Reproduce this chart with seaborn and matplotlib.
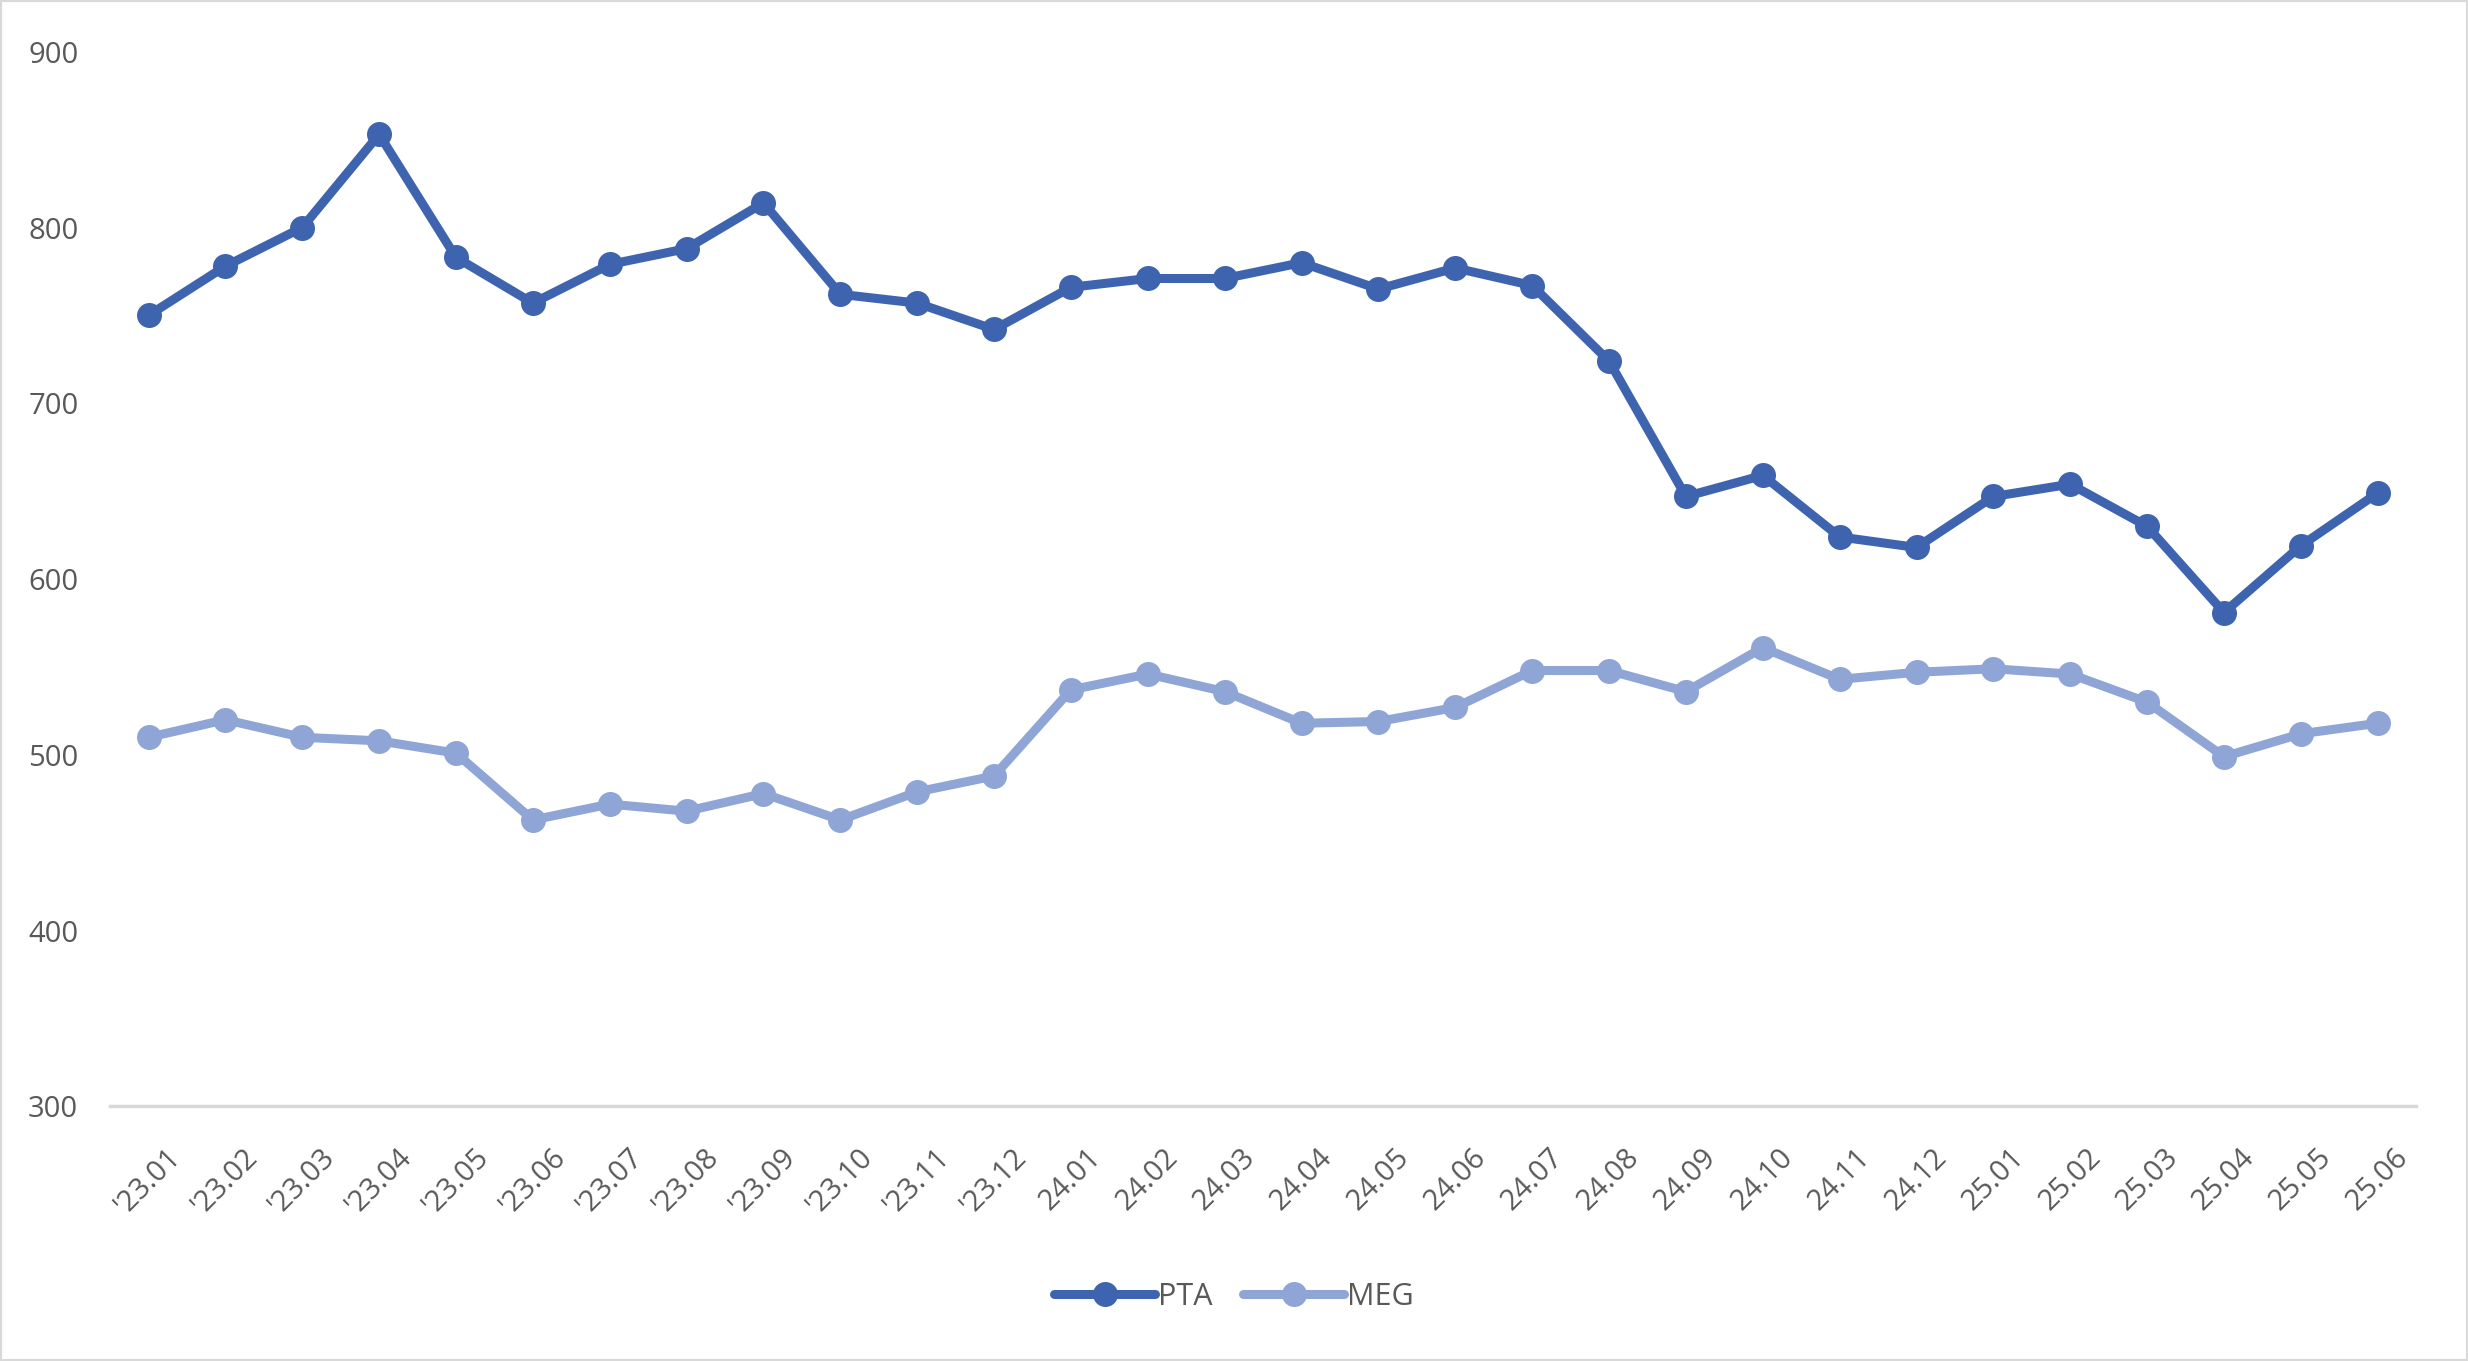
import matplotlib
matplotlib.use('Agg')
import matplotlib.pyplot as plt
import seaborn as sns
import pandas as pd
from matplotlib.patches import Rectangle

# 월별 라벨
months = ["'23.01", "'23.02", "'23.03", "'23.04", "'23.05", "'23.06",
          "'23.07", "'23.08", "'23.09", "'23.10", "'23.11", "'23.12",
          "24.01", "24.02", "24.03", "24.04", "24.05", "24.06",
          "24.07", "24.08", "24.09", "24.10", "24.11", "24.12",
          "25.01", "25.02", "25.03", "25.04", "25.05", "25.06"]

pta = [750, 778, 800, 853, 783, 757, 779, 788, 814, 762, 757, 742,
       766, 771, 771, 780, 765, 777, 767, 724, 647, 659, 624, 618,
       647, 654, 630, 581, 619, 649]

meg = [510, 520, 510, 508, 501, 463, 472, 468, 478, 463, 479, 488,
       537, 546, 536, 518, 519, 527, 548, 548, 536, 561, 543, 547,
       549, 546, 530, 499, 512, 518]

series_names = ['PTA', 'MEG']
colors = ['#3E64AF', '#8FA5D6']
y_ticks = [300, 400, 500, 600, 700, 800, 900]

df = pd.DataFrame({
    'month': months * 2,
    'value': pta + meg,
    'series': ['PTA'] * len(months) + ['MEG'] * len(months),
})

sns.set_style('white')
plt.rcParams['font.family'] = ['Open Sans', 'DejaVu Sans']

fig = plt.figure(figsize=(24.68, 13.61), dpi=100)
ax = fig.add_axes([0.0446, 0.187, 0.9344, 0.775])

sns.lineplot(data=df, x='month', y='value', hue='series', hue_order=series_names,
             palette=colors, sort=False, marker='o', markersize=18,
             markeredgewidth=0, linewidth=6.5, ax=ax, legend=False)

ax.set_xlim(-0.5, len(months) - 0.5)
ax.set_ylim(300, 900)
ax.set_yticks(y_ticks)
ax.set_xticks(range(len(months)))
ax.set_xticklabels(months, rotation=45, ha='center', va='top')
ax.tick_params(axis='both', length=0, labelsize=21, labelcolor='#595959')
ax.tick_params(axis='x', pad=26)
ax.tick_params(axis='y', pad=59)
for lab in ax.get_yticklabels():
    lab.set_horizontalalignment('left')
ax.set_xlabel('')
ax.set_ylabel('')

for s in ['top', 'right', 'left']:
    ax.spines[s].set_visible(False)
ax.spines['bottom'].set_color('#D9D9D9')
ax.spines['bottom'].set_linewidth(2.5)
ax.grid(False)

handles = [plt.Line2D([], [], color=c, lw=6.5, marker='o', markersize=18, markeredgewidth=0)
           for c in colors]
fig.legend(handles, series_names, loc='center', bbox_to_anchor=(0.5, 0.047), ncol=2,
           frameon=False, fontsize=22, handlelength=3.3, columnspacing=1.0,
           handletextpad=0.1, labelcolor='#595959')

fig.patches.append(Rectangle((0, 0), 1, 1, transform=fig.transFigure, fill=False,
                             edgecolor='#D9D9D9', linewidth=3))

fig.savefig('out.png', dpi=100, facecolor='white')
